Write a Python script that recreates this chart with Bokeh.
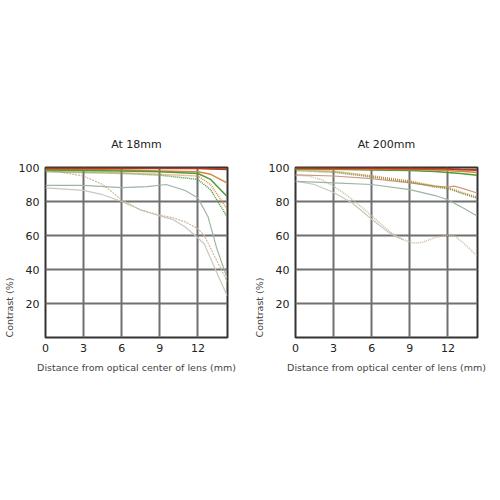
from bokeh.plotting import figure
from bokeh.layouts import row
from bokeh.models import Title, FixedTicker
from bokeh.embed import file_html
from bokeh.resources import INLINE

FONT = "DejaVu Sans"

x_ticks = [0, 3, 6, 9, 12]
y_ticks = [20, 40, 60, 80, 100]
titles = ["At 18mm", "At 200mm"]

# ---- At 18mm ----
w_x = [0, 3, 6, 9, 12, 13, 14.3]
w_red = [99.6, 99.6, 99.5, 99.5, 99.5, 99.3, 99.0]
w_orange = [99.0, 98.8, 98.5, 98.0, 97.5, 96.0, 91.0]
w_green = [98.5, 98.3, 98.0, 97.5, 96.5, 93.0, 83.0]
w_orange_dot = [98.0, 97.5, 97.0, 96.0, 95.0, 90.0, 75.5]
w_green_dot = [97.5, 97.0, 96.5, 95.5, 93.0, 87.0, 71.0]
w_lgreen_x = [0, 3, 6, 8, 9.5, 11, 12, 12.8, 13.5, 14.3]
w_lgreen = [89.5, 89.5, 88.2, 88.8, 90.0, 86.5, 82.0, 71.0, 52.0, 35.0]
w_ldot_x = [0, 1, 3, 4.5, 6, 7.5, 9, 10, 11, 12, 12.5, 13.5, 14.3]
w_ldot = [98.3, 97.5, 95.0, 90.0, 81.0, 75.0, 72.0, 70.5, 68.0, 64.0, 60.0, 45.0, 33.0]
w_lgray_x = [0, 3, 4.5, 6, 7.5, 9, 10, 11, 12, 12.5, 13.5, 14.3]
w_lgray = [88.0, 86.5, 84.0, 80.0, 75.0, 71.5, 69.5, 65.0, 58.5, 55.0, 38.0, 24.5]

# ---- At 200mm ----
t_x = [0, 3, 6, 9, 11, 12, 12.5, 13, 14.3]
t_red = [99.7, 99.6, 99.5, 99.4, 99.3, 99.2, 99.0, 98.8, 98.5]
t_orange = [99.3, 99.2, 99.0, 98.8, 98.5, 98.3, 98.0, 97.8, 97.0]
t_green = [99.0, 98.9, 98.6, 98.2, 97.6, 97.0, 96.8, 96.5, 95.5]
t_orange_dot = [99.0, 97.8, 95.0, 92.0, 89.0, 88.0, 87.0, 85.5, 82.5]
t_green_dot = [98.2, 97.2, 94.5, 91.5, 88.5, 87.5, 86.5, 85.0, 82.0]
t_lred = [95.7, 95.0, 93.5, 91.0, 89.0, 88.5, 89.0, 88.0, 85.0]
t_lgreen = [91.8, 91.0, 90.0, 87.0, 83.5, 81.0, 79.0, 77.0, 71.5]
t_ldot_x = [0, 1, 2, 3, 4, 5, 6, 7, 7.5, 8.5, 9.3, 10, 11, 12, 12.5, 13.3, 14.3]
t_ldot = [95.5, 95.0, 93.0, 89.0, 84.0, 78.0, 71.5, 65.0, 61.8, 57.5, 55.5, 56.0, 58.8, 60.2, 60.0, 55.0, 48.0]
t_lgray_x = [0, 1.5, 3, 4.5, 6, 7.3, 8, 8.5]
t_lgray = [92.0, 90.0, 85.3, 79.0, 69.6, 62.0, 59.0, 57.5]

RED = "#b03a22"
ORANGE = "#d58a3a"
GREEN = "#4e9a3c"
LGREEN = "#9fb5a2"
LRED = "#c99a86"
LDOT = "#cdbb9a"
LGRAY = "#c8c8c0"


def make_fig(title, series):
    p = figure(width=250, height=390, x_range=(0, 14.33), y_range=(0, 100),
               output_backend="svg", toolbar_location=None,
               min_border_left=43, min_border_right=23,
               min_border_top=167, min_border_bottom=53)
    p.title.text = title
    p.title.align = "center"
    p.title.text_font = FONT
    p.title.text_font_size = "11px"
    p.title.text_font_style = "normal"
    p.title.text_color = "#222222"
    p.title.standoff = 33
    p.outline_line_color = "#333333"
    p.outline_line_width = 2
    p.background_fill_color = "white"
    p.border_fill_color = "white"
    for ax in (p.xaxis, p.yaxis):
        ax.axis_line_color = None
        ax.major_tick_line_color = None
        ax.minor_tick_line_color = None
        ax.major_tick_out = 0
        ax.major_tick_in = 0
        ax.minor_tick_out = 0
        ax.minor_tick_in = 0
        ax.major_label_text_font = FONT
        ax.major_label_text_font_size = "11px"
        ax.major_label_text_color = "#222222"
        ax.major_label_standoff = 6
    p.xaxis.ticker = FixedTicker(ticks=x_ticks)
    p.yaxis.ticker = FixedTicker(ticks=y_ticks)
    p.xaxis.axis_label = "Distance from optical center of lens (mm)"
    p.xaxis.axis_label_text_font = FONT
    p.xaxis.axis_label_text_font_size = "9.5px"
    p.xaxis.axis_label_text_font_style = "normal"
    p.xaxis.axis_label_text_color = "#444444"
    p.xaxis.axis_label_standoff = 7
    p.xgrid.grid_line_color = "#707070"
    p.xgrid.grid_line_width = 2
    p.ygrid.grid_line_color = "#707070"
    p.ygrid.grid_line_width = 2
    p.add_layout(Title(text="Contrast (%)", align="left", text_font=FONT,
                       text_font_size="9.5px", text_font_style="normal",
                       text_color="#444444", standoff=2), "left")
    for xs, ys, color, width, dash in series:
        p.line(xs, ys, line_color=color, line_width=width, line_dash=dash)
    return p


p1 = make_fig(titles[0], [
    (w_lgray_x, w_lgray, LGRAY, 1.2, "solid"),
    (w_ldot_x, w_ldot, LDOT, 1.2, "2 1"),
    (w_lgreen_x, w_lgreen, LGREEN, 1.2, "solid"),
    (w_x, w_green_dot, GREEN, 1.5, "1 1"),
    (w_x, w_orange_dot, ORANGE, 1.5, "1 1"),
    (w_x, w_orange, ORANGE, 1.5, "solid"),
    (w_x, w_green, GREEN, 1.5, "solid"),
    (w_x, w_red, RED, 2, "solid"),
])

p2 = make_fig(titles[1], [
    (t_lgray_x, t_lgray, LGRAY, 1.2, "solid"),
    (t_ldot_x, t_ldot, LDOT, 1.5, "1 1"),
    (t_x, t_lgreen, LGREEN, 1.2, "solid"),
    (t_x, t_lred, LRED, 1.2, "solid"),
    (t_x, t_green_dot, GREEN, 1.5, "1 1"),
    (t_x, t_orange_dot, ORANGE, 1.8, "1 1"),
    (t_x, t_green, GREEN, 1.5, "solid"),
    (t_x, t_orange, ORANGE, 1.5, "solid"),
    (t_x, t_red, RED, 2, "solid"),
])

layout = row(p1, p2)
open("out.html", "w").write(file_html(layout, INLINE))
